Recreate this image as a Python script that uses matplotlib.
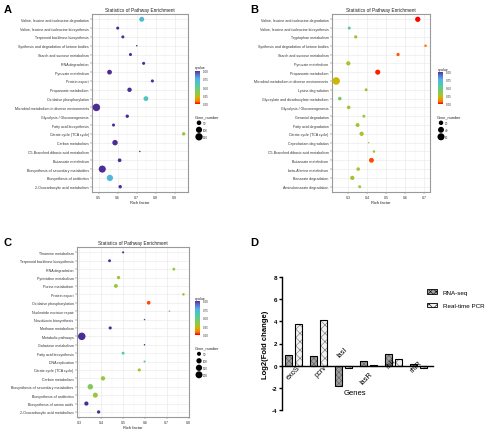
import numpy as np
import matplotlib
matplotlib.use('Agg')
import matplotlib.pyplot as plt
from matplotlib.colors import LinearSegmentedColormap, Normalize
from matplotlib.cm import ScalarMappable

plt.rcParams['font.family'] = ['Liberation Sans', 'DejaVu Sans']
plt.rcParams['hatch.linewidth'] = 0.4

W, H = 500, 439

# ---- panel A ----
a_paths = ['Valine, leucine and isoleucine degradation', 'Valine, leucine and isoleucine biosynthesis',
           'Terpenoid backbone biosynthesis', 'Synthesis and degradation of ketone bodies',
           'Starch and sucrose metabolism', 'RNA degradation', 'Pyruvate metabolism', 'Protein export',
           'Propanoate metabolism', 'Oxidative phosphorylation', 'Microbial metabolism in diverse environments',
           'Glycolysis / Gluconeogenesis', 'Fatty acid biosynthesis', 'Citrate cycle (TCA cycle)',
           'Carbon metabolism', 'C5-Branched dibasic acid metabolism', 'Butanoate metabolism',
           'Biosynthesis of secondary metabolites', 'Biosynthesis of antibiotics', '2-Oxocarboxylic acid metabolism']
a_rich = [0.726, 0.600, 0.627, 0.700, 0.667, 0.736, 0.557, 0.782, 0.662, 0.748,
          0.488, 0.650, 0.578, 0.946, 0.586, 0.716, 0.610, 0.519, 0.559, 0.613]
a_q = [0.70, 1.0, 1.0, 1.0, 1.0, 1.0, 1.0, 1.0, 1.0, 0.62,
       1.0, 1.0, 1.0, 0.30, 1.0, 1.0, 1.0, 1.0, 0.70, 1.0]
a_genes = [60, 20, 20, 10, 20, 20, 55, 20, 45, 55,
           160, 25, 20, 25, 75, 10, 30, 140, 105, 25]

# ---- panel B ----
b_paths = ['Valine, leucine and isoleucine degradation', 'Valine, leucine and isoleucine biosynthesis',
           'Tryptophan metabolism', 'Synthesis and degradation of ketone bodies',
           'Starch and sucrose metabolism', 'Pyruvate metabolism', 'Propanoate metabolism',
           'Microbial metabolism in diverse environments', 'Lysine degradation',
           'Glyoxylate and dicarboxylate metabolism', 'Glycolysis / Gluconeogenesis', 'Geraniol degradation',
           'Fatty acid degradation', 'Citrate cycle (TCA cycle)', 'Caprolactam degradation',
           'C5-Branched dibasic acid metabolism', 'Butanoate metabolism', 'beta-Alanine metabolism',
           'Benzoate degradation', 'Aminobenzoate degradation']
b_rich = [0.666, 0.305, 0.339, 0.707, 0.562, 0.300, 0.455, 0.236, 0.394, 0.255,
          0.302, 0.382, 0.349, 0.370, 0.407, 0.435, 0.422, 0.352, 0.321, 0.360]
b_q = [0.0, 0.55, 0.28, 0.08, 0.06, 0.28, 0.02, 0.21, 0.28, 0.42,
       0.28, 0.30, 0.28, 0.28, 0.35, 0.28, 0.05, 0.28, 0.28, 0.30]
b_genes = [30, 8, 10, 6, 10, 18, 28, 70, 8, 12,
           12, 8, 15, 18, 4, 6, 25, 12, 18, 8]

# ---- panel C ----
c_paths = ['Thiamine metabolism', 'Terpenoid backbone biosynthesis', 'RNA degradation', 'Pyrimidine metabolism',
           'Purine metabolism', 'Protein export', 'Oxidative phosphorylation', 'Nucleotide excision repair',
           'Novobiocin biosynthesis', 'Methane metabolism', 'Metabolic pathways', 'Galactose metabolism',
           'Fatty acid biosynthesis', 'DNA replication', 'Citrate cycle (TCA cycle)', 'Carbon metabolism',
           'Biosynthesis of secondary metabolites', 'Biosynthesis of antibiotics',
           'Biosynthesis of amino acids', '2-Oxocarboxylic acid metabolism']
c_rich = [0.500, 0.438, 0.732, 0.479, 0.467, 0.776, 0.617, 0.712, 0.598, 0.441,
          0.311, 0.598, 0.500, 0.598, 0.574, 0.408, 0.350, 0.373, 0.332, 0.388]
c_q = [1.0, 1.0, 0.30, 0.30, 0.30, 0.28, 0.05, 0.75, 0.95, 1.0,
       1.0, 1.0, 0.60, 0.60, 0.28, 0.30, 0.38, 0.30, 1.0, 1.0]
c_genes = [10, 20, 20, 30, 45, 15, 40, 8, 8, 25,
           240, 8, 20, 10, 25, 60, 110, 90, 55, 30]

# ---- panel D ----
genes = ['exoS', 'pcrv', 'lasI', 'lasR', 'rhlI', 'rhlR']
rnaseq = [1.0, 0.9, -1.85, 0.42, 1.02, 0.1]
qpcr = [3.75, 4.15, -0.26, 0.05, 0.58, -0.25]

cmap = LinearSegmentedColormap.from_list('q', [
    (0.0, '#ff0000'), (0.08, '#ff7a00'), (0.2, '#d2b400'), (0.3, '#96c83c'),
    (0.45, '#6ccc78'), (0.6, '#50c8b4'), (0.75, '#50b4e6'), (0.88, '#5a6ed2'), (1.0, '#4b2d96')])


def rect(x0, y0, x1, y1):
    return [x0 / W, 1 - y1 / H, (x1 - x0) / W, (y1 - y0) / H]


def dot_size(g, lo, hi):
    t = np.clip((np.asarray(g, float) - lo) / (hi - lo), 0, 1)
    d = 1.5 + 6.0 * np.sqrt(t)  # diameter in px
    return (d * 72 / 100) ** 2


fig = plt.figure(figsize=(W / 100, H / 100), dpi=100)


def bubble(box, paths, rich, q, gn, xticks, cbox, lpos, lvals):
    ax = fig.add_axes(rect(*box))
    y = np.arange(len(paths))[::-1]
    lo, hi = min(gn), max(gn)
    ax.scatter(rich, y, s=dot_size(gn, lo, hi), c=q, cmap=cmap, vmin=0, vmax=1,
               linewidths=0, zorder=3)
    r0, r1 = min(rich), max(rich)
    ax.set_xlim(r0 - 0.05 * (r1 - r0), r1 + 0.05 * (r1 - r0))
    ax.set_ylim(-0.6, len(paths) - 0.4)
    ax.set_yticks(y)
    ax.set_yticklabels(paths)
    ax.set_xticks(xticks)
    ax.set_xticklabels(['%.1f' % v for v in xticks])
    ax.set_xticks(np.array(xticks[:-1]) + 0.05, minor=True)
    ax.grid(which='major', color='#ebebeb', lw=0.5)
    ax.grid(which='minor', axis='x', color='#f4f4f4', lw=0.3)
    ax.set_axisbelow(True)
    for s in ax.spines.values():
        s.set_color('#9a9a9a')
        s.set_linewidth(0.8)
    ax.tick_params(length=1.2, width=0.3, color='#555555', pad=1, labelsize=2.6, labelcolor='#333333')
    ax.tick_params(which='minor', length=0)
    ax.set_xlabel('Rich factor', fontsize=3, labelpad=1, color='#222222')
    ax.set_title('Statistics of Pathway Enrichment', fontsize=3.4, pad=2.5, color='#222222')

    # colour bar
    cax = fig.add_axes(rect(*cbox))
    cb = fig.colorbar(ScalarMappable(Normalize(0, 1), cmap), cax=cax, ticks=[0, 0.25, 0.5, 0.75, 1])
    cb.ax.set_yticklabels(['0.00', '0.25', '0.50', '0.75', '1.00'])
    cb.outline.set_visible(False)
    cb.ax.tick_params(labelsize=2.2, length=1, width=0.3, color='white', pad=1, labelcolor='#333333')
    fig.text(cbox[0] / W, 1 - (cbox[1] - 3) / H, 'qvalue', fontsize=2.6, va='center', color='#222222')

    # size legend
    lx, ly = lpos
    fig.text(lx / W, 1 - ly / H, 'Gene_number', fontsize=2.8, va='center', color='#222222')
    lax = fig.add_axes([0, 0, 1, 1], facecolor='none')
    lax.set_xlim(0, W)
    lax.set_ylim(H, 0)
    lax.axis('off')
    yy = ly + 6.5 + 7 * np.arange(len(lvals))
    lax.scatter(np.full(len(lvals), lx + 4), yy, s=dot_size(lvals, lo, hi), color='black', linewidths=0)
    for v, yv in zip(lvals, yy):
        lax.text(lx + 8, yv, str(v), fontsize=2.2, va='center', color='#333333')
    return ax


bubble((92, 15, 188, 193), a_paths, a_rich, a_q, a_genes, [0.5, 0.6, 0.7, 0.8, 0.9],
       (195, 71.5, 200, 105), (195, 117.3), [50, 100, 150])
bubble((331.7, 15, 430, 193), b_paths, b_rich, b_q, b_genes, [0.3, 0.4, 0.5, 0.6, 0.7],
       (438, 72.5, 443, 105), (437, 117.3), [20, 40, 60])
bubble((76.7, 248.3, 188.7, 418), c_paths, c_rich, c_q, c_genes, [0.3, 0.4, 0.5, 0.6, 0.7, 0.8],
       (195, 301.7, 200, 335.7), (195, 348.3), [50, 100, 150, 200])

# ---- panel D: bar chart ----
ax = fig.add_axes(rect(281.7, 278.3, 433, 410.7))
x = np.arange(len(genes))
ax.bar(x - 0.2, rnaseq, 0.3, color='#a0a0a0', hatch='xxxxxx', edgecolor='#606060', lw=0)
ax.bar(x + 0.2, qpcr, 0.3, color='#f2f2f2', hatch='xxxx', edgecolor='#707070', lw=0)
ax.bar(x - 0.2, rnaseq, 0.3, fill=False, edgecolor='black', lw=0.8)
ax.bar(x + 0.2, qpcr, 0.3, fill=False, edgecolor='black', lw=0.8)
ax.set_xlim(-0.47, 5.57)
ax.set_ylim(-4, 8)
ax.set_yticks(np.arange(-4, 9, 2))
ax.set_yticklabels([str(v) for v in range(-4, 9, 2)], fontsize=4.5, fontweight='bold')
ax.set_xticks([])
ax.spines['top'].set_visible(False)
ax.spines['right'].set_visible(False)
ax.spines['bottom'].set_position(('data', 0))
for s in ('left', 'bottom'):
    ax.spines[s].set_linewidth(1.0)
ax.tick_params(axis='y', length=2.2, width=1.0, pad=1)
ax.set_ylabel('Log2(Fold change)', fontsize=5.5, fontweight='bold', labelpad=2)

lab_x = [0.0, 1.08, 1.96, 2.92, 3.88, 4.92]
lab_y = [-0.6, -0.46, 1.26, -1.07, 0.16, -0.07]
for g, lx, ly in zip(genes, lab_x, lab_y):
    ax.text(lx, ly, g, rotation=45, fontsize=5.3, ha='center', va='center')
ax.text(2.47, -2.4, 'Genes', fontsize=5.5, ha='center', va='center')

h1 = plt.Rectangle((0, 0), 1, 1, facecolor='#a0a0a0', hatch='xxxxxx', edgecolor='black', lw=0.6)
h2 = plt.Rectangle((0, 0), 1, 1, facecolor='#f2f2f2', hatch='xxxx', edgecolor='black', lw=0.6)
ax.legend([h1, h2], ['RNA-seq', 'Real-time PCR'], loc='upper left',
          bbox_to_anchor=(426.7 / W, 1 - 290 / H), bbox_transform=fig.transFigure,
          frameon=False, fontsize=4.5, borderpad=0, borderaxespad=0,
          handlelength=1.7, handleheight=0.8, handletextpad=0.9, labelspacing=1.3)

for lbl, px, py in [('A', 4, 10), ('B', 250, 10), ('C', 4, 243), ('D', 250, 243)]:
    fig.text(px / W, 1 - py / H, lbl, fontsize=8, fontweight='bold', va='center')

fig.savefig('out.png', dpi=100)
